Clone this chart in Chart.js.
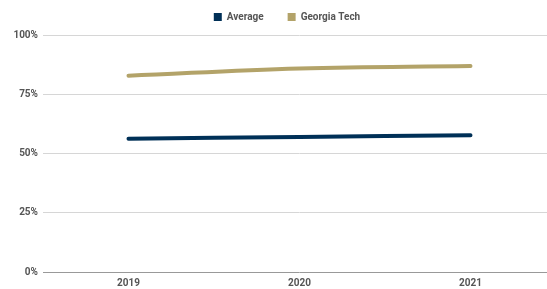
<!DOCTYPE html>
<html>
<head>
<meta charset="utf-8">
<script src="https://cdn.jsdelivr.net/npm/chart.js@4.4.1/dist/chart.umd.min.js"></script>
<style>
  html, body { margin: 0; padding: 0; background: #fff; overflow: hidden; }
  #wrap { position: relative; width: 556px; height: 289px; }
</style>
</head>
<body>
<div id="wrap"><canvas id="chart"></canvas></div>
<script>
// Data
const years = ['2019', '2020', '2021'];
const averageValues = [56.2, 57.0, 57.7];
const georgiaTechValues = [82.8, 85.9, 86.9];
const yTicks = [0, 25, 50, 75, 100];

const NAVY = '#003057';
const GOLD = '#B3A369';
const TEXT = '#555';

// Legend: fixed height and nudged so it sits where the reference has it
const legendPlace = {
    id: 'legendPlace',
    beforeInit(chart) {
        const fit = chart.legend.fit;
        chart.legend.fit = function () {
            fit.call(this);
            this.height = 35;
        };
    },
    afterLayout(chart) {
        const lg = chart.legend;
        lg.left += 9;
        lg.right += 9;
        lg.top -= 12;
    }
};

new Chart(document.getElementById('chart'), {
    type: 'line',
    data: {
        labels: years,
        datasets: [{
            label: 'Average',
            data: averageValues,
            borderColor: NAVY,
            backgroundColor: NAVY,
            borderWidth: 4,
            borderCapStyle: 'round',
            pointRadius: 0,
            tension: 0.4
        }, {
            label: 'Georgia Tech',
            data: georgiaTechValues,
            borderColor: GOLD,
            backgroundColor: GOLD,
            borderWidth: 4,
            borderCapStyle: 'round',
            pointRadius: 0,
            tension: 0.4
        }]
    },
    options: {
        responsive: true,
        maintainAspectRatio: false,
        animation: false,
        layout: { padding: 0 },
        plugins: {
            legend: {
                position: 'top',
                labels: {
                    boxWidth: 8,
                    boxHeight: 8,
                    padding: 24,
                    color: TEXT,
                    font: { family: 'Roboto', size: 10, weight: 'bold' },
                    generateLabels(chart) {
                        return Chart.defaults.plugins.legend.labels.generateLabels(chart)
                            .map(item => ({ ...item, lineWidth: 0 }));
                    }
                }
            },
            tooltip: { enabled: false }
        },
        scales: {
            x: {
                offset: true,
                grid: { display: false, drawTicks: false },
                border: { display: false },
                ticks: {
                    color: TEXT,
                    padding: 5,
                    font: { family: 'Roboto', size: 10, weight: 'bold' }
                },
                afterFit(scale) { scale.height = 17; }
            },
            y: {
                min: 0,
                max: 100,
                afterBuildTicks(scale) {
                    scale.ticks = yTicks.map(v => ({ value: v }));
                },
                grid: {
                    drawTicks: false,
                    lineWidth: 1,
                    color: ctx => ctx.tick && ctx.tick.value === 0 ? '#999' : '#d6d6d6'
                },
                border: { display: false },
                ticks: {
                    color: TEXT,
                    padding: 5,
                    font: { family: 'Roboto', size: 10, weight: 'bold' },
                    callback: v => v + '%'
                },
                afterFit(scale) { scale.width = 43; }
            }
        }
    },
    plugins: [legendPlace]
});
</script>
</body>
</html>
